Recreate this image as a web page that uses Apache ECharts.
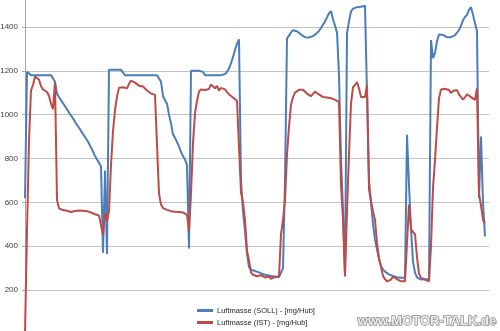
<!DOCTYPE html>
<html>
<head>
<meta charset="utf-8">
<script src="https://cdn.jsdelivr.net/npm/echarts@6/dist/echarts.min.js"></script>
<style>
  html, body { margin: 0; padding: 0; background: #fff; }
  #chart { width: 500px; height: 331px; }
</style>
</head>
<body>
<div id="chart"></div>
<script>
// Sample index (time steps); the last two samples have no data
const sampleCount = 233;

// Luftmasse (SOLL) - [mg/Hub]
const soll = [
  620, 1195, 1200, 1180, 1180, 1180, 1180, 1180, 1180, 1180,
  1180, 1180, 1180, 1180, 1180, 1150, 1095, 1080, 1066, 1052,
  1038, 1024, 1010, 996, 982, 968, 953, 940, 926, 912,
  898, 884, 868, 850, 832, 812, 795, 780, 765, 370,
  745, 365, 1204, 1204, 1204, 1204, 1204, 1204, 1204, 1198,
  1180, 1180, 1180, 1180, 1180, 1180, 1180, 1180, 1180, 1180,
  1180, 1180, 1180, 1180, 1180, 1180, 1180, 1180, 1150, 1085,
  1065, 1050, 1000, 960, 910, 895, 875, 855, 830, 810,
  795, 770, 390, 1200, 1200, 1200, 1200, 1200, 1200, 1195,
  1180, 1180, 1180, 1180, 1180, 1180, 1180, 1180, 1180, 1180,
  1185, 1195, 1210, 1235, 1262, 1295, 1322, 1343, 700, 560,
  470, 365, 305, 293, 290, 287, 285, 281, 277, 272,
  270, 268, 266, 264, 263, 262, 261, 260, 262, 300,
  700, 1348, 1360, 1375, 1385, 1386, 1380, 1373, 1365, 1358,
  1353, 1351, 1352, 1354, 1358, 1365, 1372, 1382, 1395, 1410,
  1425, 1443, 1462, 1472, 1435, 1405, 1375, 1180, 800, 560,
  265, 1371, 1425, 1470, 1483, 1490, 1490, 1491, 1492, 1494,
  1496, 1497, 700, 600, 500, 430, 385, 340, 310, 295,
  284, 278, 272, 268, 265, 261, 259, 257, 256, 256,
  256, 908, 680, 480, 330, 280, 258, 251, 248, 250,
  250, 250, 250, 1340, 1257, 1280, 1335, 1365, 1370, 1363,
  1357, 1353, 1352, 1353, 1356, 1362, 1371, 1385, 1405, 1430,
  1445, 1455, 1478, 1490, 1455, 1416, 1380, 620, 900, 600,
  445
];

// Luftmasse (IST) - [mg/Hub]
const ist = [
  0, 470, 880, 1110, 1135, 1173, 1166, 1160, 1130, 1115,
  1110, 1103, 1085, 1050, 1025, 1148, 611, 573, 566, 565,
  565, 562, 558, 556, 558, 561, 562, 563, 562, 562,
  560, 560, 557, 554, 550, 546, 543, 540, 535, 452,
  551, 515, 560, 770, 925, 1020, 1082, 1122, 1122, 1125,
  1130, 1120, 1140, 1155, 1148, 1146, 1140, 1132, 1135, 1128,
  1120, 1110, 1103, 1096, 1092, 1090, 1088, 640, 590, 574,
  570, 566, 563, 560, 558, 557, 556, 556, 555, 554,
  553, 543, 470, 640, 870, 1007, 1062, 1105, 1115, 1114,
  1112, 1120, 1117, 1138, 1132, 1120, 1131, 1110, 1122, 1131,
  1115, 1103, 1092, 1085, 1078, 1070, 1063, 1058, 645, 600,
  520, 380, 335, 280, 270, 272, 263, 268, 268, 272,
  258, 256, 262, 252, 254, 259, 261, 262, 455, 520,
  611, 820, 945, 1045, 1080, 1100, 1108, 1113, 1104, 1113,
  1104, 1096, 1090, 1084, 1092, 1105, 1108, 1092, 1083, 1080,
  1075, 1078, 1077, 1075, 1072, 1067, 1062, 1058, 680, 520,
  262, 560, 820, 1050, 1125, 1135, 1148, 1120, 1080, 1079,
  1080, 1135, 660, 605, 560, 520, 415, 345, 305, 265,
  250, 240, 245, 248, 262, 255, 250, 243, 240, 244,
  240, 245, 590, 480, 465, 455, 350, 275, 256, 250,
  248, 246, 240, 400, 665, 794, 940, 1075, 1115, 1120,
  1118, 1120, 1112, 1098, 1108, 1114, 1112, 1092, 1083, 1068,
  1079, 1093, 1085, 1080, 1072, 1067, 1120, 640, 585, 520,
  505
];

const seriesNames = ['Luftmasse (SOLL) - [mg/Hub]', 'Luftmasse (IST) - [mg/Hub]'];
const yTicks = { min: 0, max: 1600, interval: 200 };
const watermark = 'www.MOTOR-TALK.de';

const categories = Array.from({ length: sampleCount }, (_, i) => String(i));

const chart = echarts.init(document.getElementById('chart'), null, { renderer: 'canvas' });
chart.setOption({
  animation: false,
  backgroundColor: '#ffffff',
  textStyle: { fontFamily: 'Liberation Sans, Arial, sans-serif' },
  grid: { left: 25, right: 11, top: -17, height: 351, containLabel: false, outerBoundsMode: 'none' },
  xAxis: {
    type: 'category',
    data: categories,
    boundaryGap: false,
    axisLine: { show: false },
    axisTick: { show: false },
    axisLabel: { show: false },
    splitLine: { show: false }
  },
  yAxis: {
    type: 'value',
    min: yTicks.min,
    max: yTicks.max,
    interval: yTicks.interval,
    axisLine: { show: true, lineStyle: { color: '#A6A6A6', width: 1 } },
    axisTick: { show: true, length: 3, lineStyle: { color: '#A6A6A6' } },
    axisLabel: {
      color: '#404040', fontSize: 8, margin: 7,
      fontFamily: 'Liberation Sans, Arial, sans-serif',
      formatter: (v) => String(v)
    },
    splitLine: { show: true, lineStyle: { color: '#C4C4C4', width: 1 } }
  },
  legend: {
    orient: 'vertical',
    left: 197,
    top: 306,
    itemWidth: 16,
    itemHeight: 3,
    itemGap: 3,
    icon: 'rect',
    padding: 0,
    textStyle: { fontSize: 7.5, lineHeight: 9, color: '#262626', fontFamily: 'Liberation Sans, Arial, sans-serif', padding: [0, 0, 0, -1] },
    data: seriesNames
  },
  series: [
    {
      name: seriesNames[0],
      type: 'line',
      data: soll,
      showSymbol: false,
      symbol: 'none',
      lineStyle: { color: '#4A7EBB', width: 2 },
      itemStyle: { color: '#4A7EBB' }
    },
    {
      name: seriesNames[1],
      type: 'line',
      data: ist,
      showSymbol: false,
      symbol: 'none',
      lineStyle: { color: '#BE4B48', width: 2 },
      itemStyle: { color: '#BE4B48' }
    }
  ],
  graphic: [
    {
      type: 'text',
      right: 3,
      bottom: 2,
      style: {
        text: watermark,
        font: 'bold 13px Liberation Sans, Arial, sans-serif',
        fill: '#EDEDED',
        stroke: '#8C8C8C',
        lineWidth: 1.5
      }
    }
  ]
});
</script>
</body>
</html>
